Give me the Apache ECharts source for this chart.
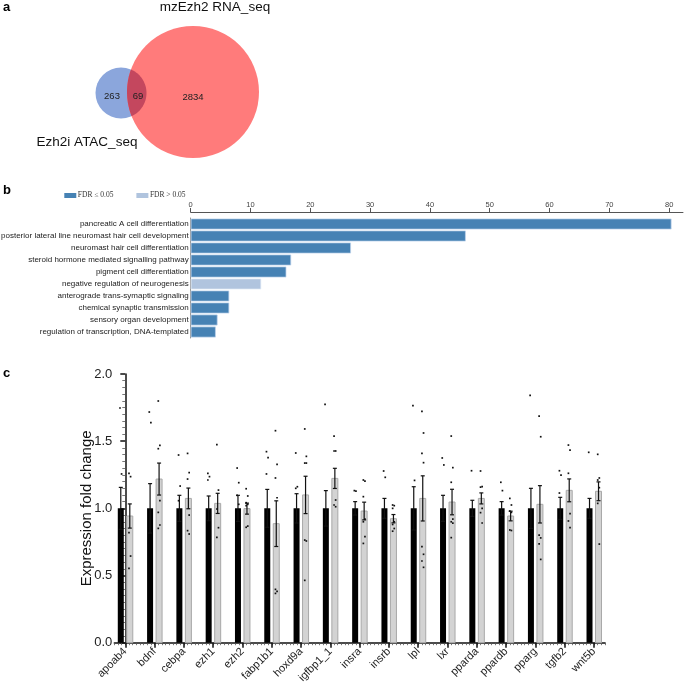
<!DOCTYPE html>
<html><head><meta charset="utf-8">
<script src="https://cdn.jsdelivr.net/npm/echarts@6/dist/echarts.min.js"></script>
<style>html,body{margin:0;padding:0;background:#fff}#c{width:685px;height:682px}</style>
</head><body><div id="c"></div>
<script>
// ---------- Panel a: Venn ----------
const vennSetNames = ['Ezh2i ATAC_seq', 'mzEzh2 RNA_seq'];
const vennCounts = [263, 69, 2834]; // only ATAC, both, only RNA

// ---------- Panel b: GO enrichment ----------
const goTerms = ['pancreatic A cell differentiation','posterior lateral line neuromast hair cell development','neuromast hair cell differentiation','steroid hormone mediated signalling pathway','pigment cell differentiation','negative regulation of neurogenesis','anterograde trans-symaptic signaling','chemical synaptic transmission','sensory organ development','regulation of transcription, DNA-templated'];
const goValues = [80.4, 46.0, 26.8, 16.8, 16.0, 11.8, 6.45, 6.45, 4.5, 4.2];
const goSignificant = [true, true, true, true, true, false, true, true, true, true];
const goTicks = [0, 10, 20, 30, 40, 50, 60, 70, 80];
const fdrNames = ['FDR \u2264 0.05', 'FDR > 0.05'];

// ---------- Panel c: qPCR ----------
const genes = ['apoab4','bdnf','cebpa','ezh1','ezh2','fabp1b1','hoxd9a','igfbp1_1','insra','insrb','lpl','lxr','pparda','ppardb','pparg','tgfb2','wnt5b'];
const ctrlMean = [1,1,1,1,1,1,1,1,1,1,1,1,1,1,1,1,1];
const ctrlSem = [0.156,0.184,0.097,0.092,0.097,0.141,0.109,0.132,0.05,0.074,0.161,0.097,0.06,0.05,0.149,0.082,0.074];
const treatMean = [0.943,1.218,1.074,1.037,0.998,0.886,1.10,1.223,0.980,0.923,1.074,1.047,1.074,0.943,1.03,1.134,1.127];
const treatSem = [0.09,0.119,0.077,0.075,0.041,0.17,0.139,0.075,0.066,0.031,0.168,0.095,0.041,0.036,0.139,0.085,0.07];
const ctrlDots = [
  [1.747,1.256],[1.717,1.638],[1.397,1.166,1.057],[1.26,1.236,1.211],[1.30,1.191,1.097,1.03],
  [1.422,1.377,1.256],[1.412,1.161,1.149],[1.774],[1.132,1.128],[1.278,1.231],[1.764,1.208],
  [1.375,1.323],[1.28],[1.194,1.132],[1.841],[1.28,1.248,1.114],[1.417]
];
const treatDots = [
  [1.26,1.236,0.819,0.645,0.553],[1.799,1.469,1.444,1.057,0.970,0.876,0.851],[1.409,1.266,1.218,0.950,0.834,0.809],
  [1.474,1.136,0.995,0.856,0.784],[1.146,1.092,1.042,1.03,1.02,0.868,0.859],[1.578,1.328,1.226,1.079,0.397,0.382,0.367],
  [1.591,1.387,1.337,1.337,0.764,0.757,0.464],[1.538,1.427,1.427,1.062,1.025,1.012],[1.211,1.203,1.087,0.92,0.90,0.789,0.739],
  [1.025,1.02,1.0,0.90,0.88,0.85,0.83],[1.722,1.561,1.409,1.34,0.715,0.658,0.608,0.561],[1.538,1.303,1.194,0.92,0.90,0.89,0.782],
  [1.278,1.161,1.158,1.0,0.968,0.891],[1.074,1.025,0.98,0.97,0.839,0.835],[1.687,1.533,0.80,0.78,0.735,0.62],
  [1.471,1.434,1.261,0.96,0.906,0.856],[1.402,1.226,1.211,1.154,1.037,0.734]
];

const FONT = 'Liberation Sans, Arial, sans-serif';
const chart = echarts.init(document.getElementById('c'), null, {renderer: 'canvas'});

// Venn layout (style)
const c1 = {x: 121, y: 93, r: 25.5}, c2 = {x: 193, y: 92, r: 66};
function lensPoints(a, b) {
  const N = 40;
  const inside = (p, c) => Math.hypot(p[0] - c.x, p[1] - c.y) <= c.r + 1e-9;
  const dx = b.x - a.x, dy = b.y - a.y, d = Math.hypot(dx, dy);
  const t = (d*d + a.r*a.r - b.r*b.r) / (2*d);
  const h = Math.sqrt(a.r*a.r - t*t);
  const px = a.x + t*dx/d, py = a.y + t*dy/d;
  const nx = -dy/d, ny = dx/d;
  const P1 = [px - h*nx, py - h*ny], P2 = [px + h*nx, py + h*ny];
  const ang = (c, p) => Math.atan2(p[1] - c.y, p[0] - c.x);
  function arc(c, s, e, other) {
    let a0 = ang(c, s), a1 = ang(c, e);
    const mid = (a0 + a1) / 2;
    const m = [c.x + c.r*Math.cos(mid), c.y + c.r*Math.sin(mid)];
    if (!inside(m, other)) { if (a1 > a0) a1 -= 2*Math.PI; else a1 += 2*Math.PI; }
    const out = [];
    for (let k = 0; k <= N; k++) { const q = a0 + (a1 - a0)*k/N; out.push([c.x + c.r*Math.cos(q), c.y + c.r*Math.sin(q)]); }
    return out;
  }
  return arc(a, P1, P2, b).concat(arc(b, P2, P1, a));
}

const OFF = 4.5, BW = 6;
function barItem(offset, fill, stroke) {
  return function (params, api) {
    const i = api.value(0), m = api.value(1), s = api.value(2);
    const base = api.coord([i, 0]);
    const top = api.coord([i, m]);
    const hi = api.coord([i, m + s]);
    const lo = api.coord([i, m - s]);
    const cx = base[0] + offset;
    return {type: 'group', children: [
      {type: 'rect', shape: {x: cx - BW/2, y: top[1], width: BW, height: base[1] - top[1]},
       style: {fill: fill, stroke: stroke || 'none', lineWidth: stroke ? 1 : 0}},
      {type: 'line', shape: {x1: cx, y1: hi[1], x2: cx, y2: lo[1]}, style: {stroke: '#111', lineWidth: 1.2}},
      {type: 'line', shape: {x1: cx - 2, y1: hi[1], x2: cx + 2, y2: hi[1]}, style: {stroke: '#111', lineWidth: 1.2}},
      {type: 'line', shape: {x1: cx - 2, y1: lo[1], x2: cx + 2, y2: lo[1]}, style: {stroke: '#111', lineWidth: 1.2}}
    ]};
  };
}
function dotItem(offset) {
  return function (params, api) {
    const p = api.coord([api.value(0), api.value(1)]);
    const k = api.value(2);
    const dx = (k % 2 === 0 ? -0.8 : 0.8);
    return {type: 'rect', shape: {x: p[0] + offset + dx - 0.85, y: p[1] - 0.85, width: 1.7, height: 1.7}, style: {fill: '#111'}};
  };
}
const ctrlData = genes.map((g, i) => [i, ctrlMean[i], ctrlSem[i]]);
const treatData = genes.map((g, i) => [i, treatMean[i], treatSem[i]]);
const ctrlDotData = [], treatDotData = [];
ctrlDots.forEach((arr, i) => arr.forEach((v, k) => ctrlDotData.push([i, v, k])));
treatDots.forEach((arr, i) => arr.forEach((v, k) => treatDotData.push([i, v, k])));
const geneIdx = genes.map((g, i) => i);

const option = {
  animation: false,
  textStyle: {fontFamily: FONT},
  graphic: [
    {type: 'circle', shape: {cx: c1.x, cy: c1.y, r: c1.r}, style: {fill: '#8ba6dc'}},
    {type: 'circle', shape: {cx: c2.x, cy: c2.y, r: c2.r}, style: {fill: '#ff7b7b'}},
    {type: 'polygon', shape: {points: lensPoints(c1, c2)}, style: {fill: '#c4475e'}},
    {type: 'text', left: 3, top: 1, style: {text: 'a', font: 'bold 13px ' + FONT, fill: '#000'}},
    {type: 'text', x: 215, y: 7, style: {text: vennSetNames[1], font: '13.5px ' + FONT, fill: '#111', align: 'center', verticalAlign: 'middle'}},
    {type: 'text', x: 87, y: 142, style: {text: vennSetNames[0], font: '13.5px ' + FONT, fill: '#111', align: 'center', verticalAlign: 'middle'}},
    {type: 'text', x: 112, y: 96, style: {text: String(vennCounts[0]), font: '9.5px ' + FONT, fill: '#222', align: 'center', verticalAlign: 'middle'}},
    {type: 'text', x: 138, y: 96, style: {text: String(vennCounts[1]), font: '9.5px ' + FONT, fill: '#222', align: 'center', verticalAlign: 'middle'}},
    {type: 'text', x: 193, y: 97, style: {text: String(vennCounts[2]), font: '9.5px ' + FONT, fill: '#222', align: 'center', verticalAlign: 'middle'}},
    {type: 'text', left: 3, top: 184, style: {text: 'b', font: 'bold 13px ' + FONT, fill: '#000'}},
    {type: 'text', left: 3, top: 367, style: {text: 'c', font: 'bold 13px ' + FONT, fill: '#000'}}
  ],
  legend: {
    data: fdrNames, left: 64.3, top: 191.5, padding: 0, itemWidth: 12, itemHeight: 5, itemGap: 23, icon: 'rect',
    itemStyle: {borderWidth: 0},
    textStyle: {fontFamily: 'Liberation Serif, Times New Roman, serif', fontSize: 7.5, color: '#333', padding: [0, 0, 0, -3.5]}
  },
  grid: [
    {left: 190.7, top: 218, width: 492.2, height: 120, outerBoundsMode: 'none'},
    {left: 114.3, top: 374, width: 490.7, height: 268.7, outerBoundsMode: 'none'}
  ],
  xAxis: [
    {type: 'value', gridIndex: 0, position: 'top', offset: 6, min: 0, max: 82.3,
     axisLine: {show: true, lineStyle: {color: '#555', width: 1.2}},
     axisTick: {show: true, customValues: goTicks, length: 4, lineStyle: {color: '#555'}},
     axisLabel: {customValues: goTicks, fontSize: 7.5, color: '#444', margin: 3},
     splitLine: {show: false}},
    {type: 'value', gridIndex: 1, position: 'bottom', min: -0.375, max: 16.375, interval: 0.125,
     axisLine: {show: true, lineStyle: {color: '#111', width: 1.5}},
     axisTick: {show: true, length: 2.5, lineStyle: {color: '#555', width: 0.8}},
     axisLabel: {show: false}, splitLine: {show: false}},
    {type: 'value', gridIndex: 1, position: 'bottom', min: -0.375, max: 16.375,
     axisLine: {show: false},
     axisTick: {show: true, customValues: geneIdx, length: 5, lineStyle: {color: '#111', width: 1.5}},
     axisLabel: {customValues: geneIdx, formatter: v => genes[Math.round(v)], rotate: 45, fontSize: 11, color: '#222', margin: 7},
     splitLine: {show: false}}
  ],
  yAxis: [
    {type: 'category', gridIndex: 0, inverse: true, data: goTerms,
     axisLine: {show: true, lineStyle: {color: '#999', width: 1}},
     axisTick: {show: false},
     axisLabel: {fontSize: 8, color: '#222', margin: 2}},
    {type: 'value', gridIndex: 1, min: 0, max: 2, interval: 0.5,
     name: 'Expression fold change', nameLocation: 'middle', nameGap: 20, nameMoveOverlap: false,
     nameTextStyle: {fontSize: 15, color: '#111'},
     axisLine: {show: true, lineStyle: {color: '#111', width: 1.5}},
     axisTick: {show: true, length: 5, lineStyle: {color: '#111', width: 1.5}},
     minorTick: {show: true, splitNumber: 10, length: 3, lineStyle: {color: '#555', width: 0.8}},
     axisLabel: {formatter: v => v.toFixed(1), fontSize: 13, color: '#222', margin: 2},
     splitLine: {show: false}, minorSplitLine: {show: false}}
  ],
  series: [
    {name: fdrNames[0], type: 'bar', xAxisIndex: 0, yAxisIndex: 0, stack: 'go', barWidth: 11,
     itemStyle: {color: '#4682b4', borderColor: 'rgba(190,210,235,0.9)', borderWidth: 0.8},
     data: goValues.map((v, i) => goSignificant[i] ? v : '-')},
    {name: fdrNames[1], type: 'bar', xAxisIndex: 0, yAxisIndex: 0, stack: 'go', barWidth: 11,
     itemStyle: {color: '#b0c4de', borderColor: 'rgba(230,238,248,0.9)', borderWidth: 0.8},
     data: goValues.map((v, i) => goSignificant[i] ? '-' : v)},
    {name: 'control', type: 'custom', xAxisIndex: 2, yAxisIndex: 1, renderItem: barItem(-OFF, '#000', null), data: ctrlData},
    {name: 'treated', type: 'custom', xAxisIndex: 2, yAxisIndex: 1, renderItem: barItem(OFF, '#d3d3d3', '#a9a9a9'), data: treatData},
    {name: 'control points', type: 'custom', xAxisIndex: 2, yAxisIndex: 1, renderItem: dotItem(-OFF), data: ctrlDotData, z: 5},
    {name: 'treated points', type: 'custom', xAxisIndex: 2, yAxisIndex: 1, renderItem: dotItem(OFF), data: treatDotData, z: 5}
  ]
};
chart.setOption(option);
</script></body></html>
